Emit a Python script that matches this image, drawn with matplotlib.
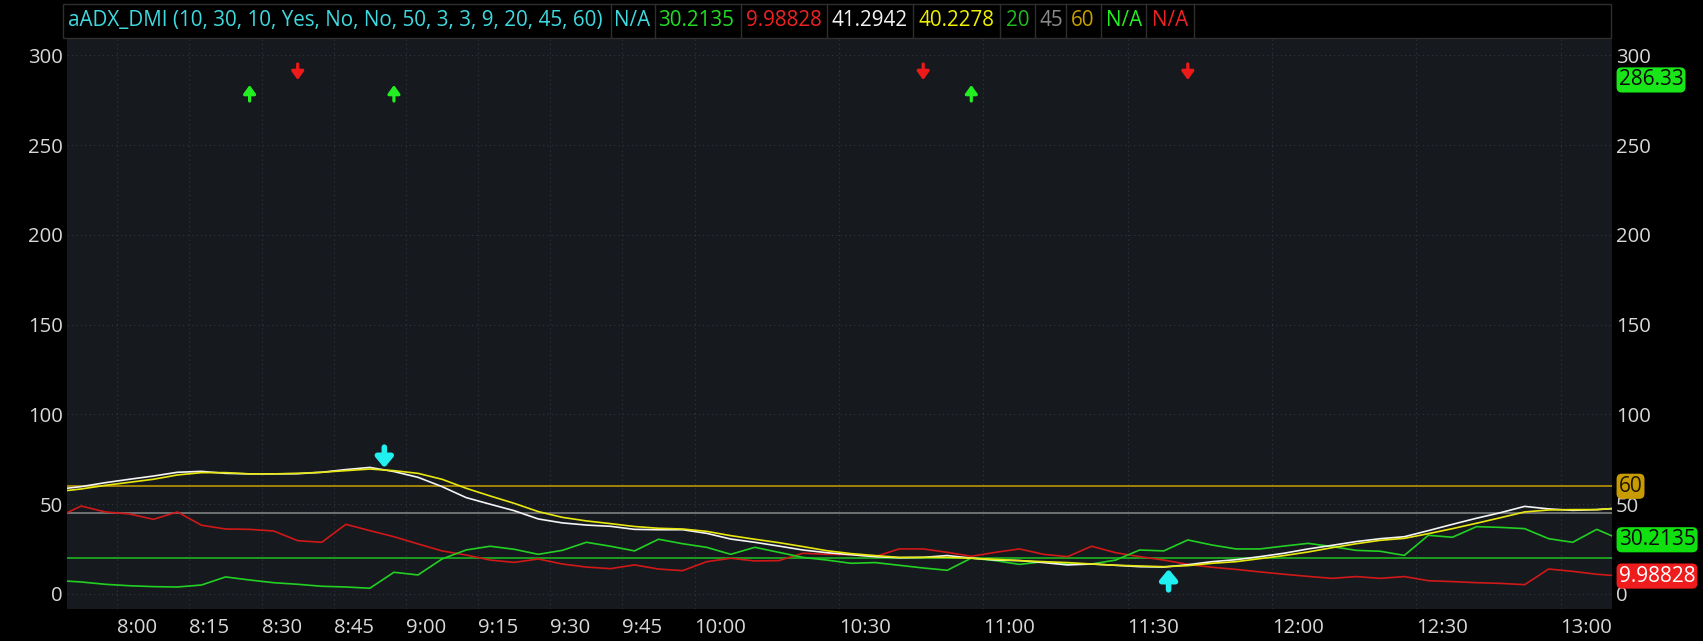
import matplotlib
matplotlib.use("Agg")
import matplotlib.pyplot as plt
import matplotlib.transforms as mtransforms
from matplotlib.patches import Rectangle
from matplotlib.lines import Line2D

plt.rcParams['font.family'] = ['Open Sans', 'DejaVu Sans']

# ---------------- data ----------------
first_bar = "7:45"
bar_step_min = 5
n_bars = 66

di_plus = [7.5, 6.7, 5.4, 4.6, 4.1, 3.9, 5.0, 9.5, 7.8, 6.3,
           5.4, 4.3, 3.9, 3.2, 12.1, 10.6, 19.5, 24.5, 26.6, 24.9,
           22.1, 24.3, 28.8, 26.6, 24.0, 30.5, 28.0, 26.0, 22.1, 26.0,
           23.2, 20.4, 18.9, 17.1, 17.5, 16.0, 14.5, 13.2, 20.0, 18.6,
           16.5, 18.0, 16.7, 16.7, 18.9, 24.5, 24.0, 30.1, 27.3, 25.1,
           25.1, 26.7, 28.2, 26.4, 24.3, 23.8, 21.5, 32.7, 31.6, 37.5,
           37.1, 36.4, 30.8, 28.8, 36.0, 30.2135]
di_minus = [42.7, 49.0, 45.7, 44.6, 41.6, 45.7, 38.3, 36.2, 36.0, 35.1,
            29.7, 28.8, 38.8, 35.3, 31.9, 27.9, 24.0, 21.7, 18.9, 17.6,
            19.5, 16.7, 15.0, 14.1, 16.2, 13.9, 13.0, 18.0, 19.9, 18.4,
            18.6, 22.7, 22.1, 21.9, 20.8, 25.1, 25.1, 23.2, 21.0, 23.2,
            25.1, 22.1, 20.8, 26.6, 23.0, 20.8, 18.9, 16.5, 14.9, 13.7,
            12.3, 11.0, 9.8, 8.7, 9.7, 8.7, 9.7, 7.4, 6.9, 6.3,
            5.9, 5.2, 13.9, 12.6, 11.0, 9.98828]
adx = [58.3, 59.8, 62.0, 63.9, 65.7, 67.8, 68.3, 67.2, 66.9, 66.9,
       67.0, 67.8, 69.3, 70.5, 68.2, 65.0, 59.8, 53.7, 50.0, 46.4,
       41.8, 39.6, 38.4, 37.7, 36.0, 35.8, 35.8, 33.8, 30.6, 28.8,
       26.7, 24.5, 23.0, 21.9, 20.8, 20.2, 20.4, 21.4, 20.0, 18.9,
       18.6, 17.5, 16.2, 16.7, 16.0, 15.2, 15.0, 16.3, 18.0, 19.1,
       20.8, 22.7, 25.1, 27.1, 29.2, 30.8, 31.9, 35.3, 38.8, 42.2,
       45.3, 48.8, 47.4, 46.6, 47.0, 47.9]
adx_avg = [57.0, 58.5, 60.5, 62.2, 63.9, 66.3, 67.6, 67.6, 66.9, 66.9,
           67.2, 67.8, 68.7, 69.6, 68.7, 67.2, 63.9, 58.9, 54.6, 50.5,
           45.9, 42.7, 40.7, 39.2, 37.6, 36.6, 36.2, 34.9, 32.5, 30.5,
           28.6, 26.4, 24.1, 22.5, 21.4, 20.4, 20.4, 20.4, 19.9, 19.3,
           18.6, 18.0, 17.5, 16.7, 16.0, 15.6, 15.2, 15.8, 17.1, 18.0,
           19.7, 21.4, 23.4, 25.8, 28.0, 29.9, 31.0, 33.6, 36.4, 39.4,
           42.5, 45.7, 46.8, 47.0, 47.0, 47.9]

level_low, level_mid, level_high = 20, 45, 60

green_arrow_times = ["8:25", "8:55", "10:55"]
green_arrow_val = 283.5
red_arrow_times = ["8:35", "10:45", "11:40"]
red_arrow_val = 286.33
cyan_down_times = ["8:53"]
cyan_down_vals = [70.2]
cyan_up_times = ["11:36"]
cyan_up_vals = [13.9]

x_tick_labels = ["8:00", "8:15", "8:30", "8:45", "9:00", "9:15", "9:30", "9:45",
                 "10:00", "10:30", "11:00", "11:30", "12:00", "12:30", "13:00"]
y_ticks = [0, 50, 100, 150, 200, 250, 300]

header_parts = [
    ("aADX_DMI (10, 30, 10, Yes, No, No, 50, 3, 3, 9, 20, 45, 60)", "#3fd9e0"),
    ("N/A", "#3fd9e0"),
    ("30.2135", "#22dd22"),
    ("9.98828", "#ee2222"),
    ("41.2942", "#f2f2f2"),
    ("40.2278", "#f0f000"),
    ("20", "#22bb22"),
    ("45", "#8a8a8a"),
    ("60", "#c8a000"),
    ("N/A", "#22ee22"),
    ("N/A", "#ee2222"),
]

right_labels = [("286.33", 286.33, "#19e619", "#0a0a0a"),
                ("60", 60, "#c89c00", "#1a1400"),
                ("30.2135", 30.2135, "#10e010", "#0a0a0a"),
                ("9.98828", 9.98828, "#ee1c1c", "#ffffff")]

# ---------------- helpers ----------------
def to_min(s):
    h, m = s.split(":")
    return int(h) * 60 + float(m)

BAR_CENTER = bar_step_min / 2.0
start = to_min(first_bar)
x = [start + bar_step_min * i + BAR_CENTER for i in range(n_bars)]

FS = 14.6
W, H = 1703, 641
fig = plt.figure(figsize=(W / 100, H / 100), dpi=100, facecolor="black")
L, R, B, T = 67, 1611.7, 609, 38
ax = fig.add_axes([L / W, 1 - B / H, (R - L) / W, (B - T) / H])
ax.set_facecolor("#161a1f")

ax.set_xlim(469.55, 790.6)
ax.set_ylim(-8.36, 309.7)

# grid
grid_kw = dict(color="#33373d", lw=0.8, dashes=(1, 3), zorder=0)
for yv in y_ticks:
    ax.axhline(yv, **grid_kw)
for t in x_tick_labels:
    ax.axvline(to_min(t), **grid_kw)

# horizontal levels
ax.axhline(level_high, color="#c8a000", lw=1.1, zorder=1)
ax.axhline(level_mid, color="#8a8a8a", lw=1.1, zorder=1)
ax.axhline(level_low, color="#1fc01f", lw=1.1, zorder=1)

# series
ax.plot(x, di_minus, color="#d01818", lw=1.2, zorder=3)
ax.plot(x, di_plus, color="#22d022", lw=1.2, zorder=3)
ax.plot(x, adx, color="#f4f4f4", lw=1.2, zorder=4)
ax.plot(x, adx_avg, color="#e8e810", lw=1.2, zorder=4)

# arrows
def arrow(xv, yv, color, up, length, lw, hw, hl):
    ax.annotate("", xy=(xv, yv), xytext=(0, -length if up else length),
                textcoords="offset points",
                arrowprops=dict(arrowstyle=f"-|>,head_width={hw},head_length={hl}",
                                color=color, lw=lw, shrinkA=0, shrinkB=0,
                                mutation_scale=10),
                zorder=6, annotation_clip=False)

for t in green_arrow_times:
    arrow(to_min(t) + BAR_CENTER, green_arrow_val, "#22ee22", True, 11.5, 2.3, 0.36, 0.5)
for t in red_arrow_times:
    arrow(to_min(t) + BAR_CENTER, red_arrow_val, "#ee1a1a", False, 11.5, 2.3, 0.36, 0.5)
for t, v in zip(cyan_down_times, cyan_down_vals):
    arrow(to_min(t) + BAR_CENTER, v, "#20f0f0", False, 15, 4.0, 0.5, 0.6)
for t, v in zip(cyan_up_times, cyan_up_vals):
    arrow(to_min(t) + BAR_CENTER, v, "#20f0f0", True, 15, 4.0, 0.5, 0.6)

# axes styling
for sp in ax.spines.values():
    sp.set_visible(False)
ax.set_yticks(y_ticks)
ax.set_yticklabels([str(v) for v in y_ticks])
ax.tick_params(axis="y", which="both", length=0, pad=3, colors="#d8d8d8",
               labelsize=FS, left=True, right=True, labelleft=True, labelright=True)
ax.set_xticks([to_min(t) for t in x_tick_labels])
ax.set_xticklabels(x_tick_labels)
ax.tick_params(axis="x", length=0, pad=6.5, colors="#d8d8d8", labelsize=FS)
for lab in ax.get_xticklabels():
    lab.set_ha("left")

# right value boxes
trans = mtransforms.blended_transform_factory(ax.transAxes, ax.transData)
for txt, val, fc, tc in right_labels:
    ax.text(1.0045, val, txt, transform=trans, ha="left", va="center",
            fontsize=FS + 0.4, color=tc, clip_on=False, zorder=10,
            bbox=dict(boxstyle="round,pad=0.1,rounding_size=0.25", fc=fc, ec="none"))

# header
fig.patches.append(Rectangle((63 / W, 1 - 38 / H), (1611 - 63) / W, 34 / H,
                             transform=fig.transFigure, fc="black", ec="#2e2e2e", lw=1.0))
header_x = [68, 614, 658, 746, 832, 919, 1006, 1040, 1071, 1106, 1152]
seps = [611, 655, 741, 827, 913, 1000, 1035, 1066, 1101, 1146, 1194]
for (txt, col), hx in zip(header_parts, header_x):
    fig.text(hx / W, 1 - 20.5 / H, txt, color=col, fontsize=14.9, ha="left", va="center")
for sx in seps:
    fig.add_artist(Line2D([sx / W, sx / W], [1 - 38 / H, 1 - 4 / H], color="#2e2e2e",
                          lw=1.0, transform=fig.transFigure))

fig.savefig("out.png", dpi=100, facecolor="black")
